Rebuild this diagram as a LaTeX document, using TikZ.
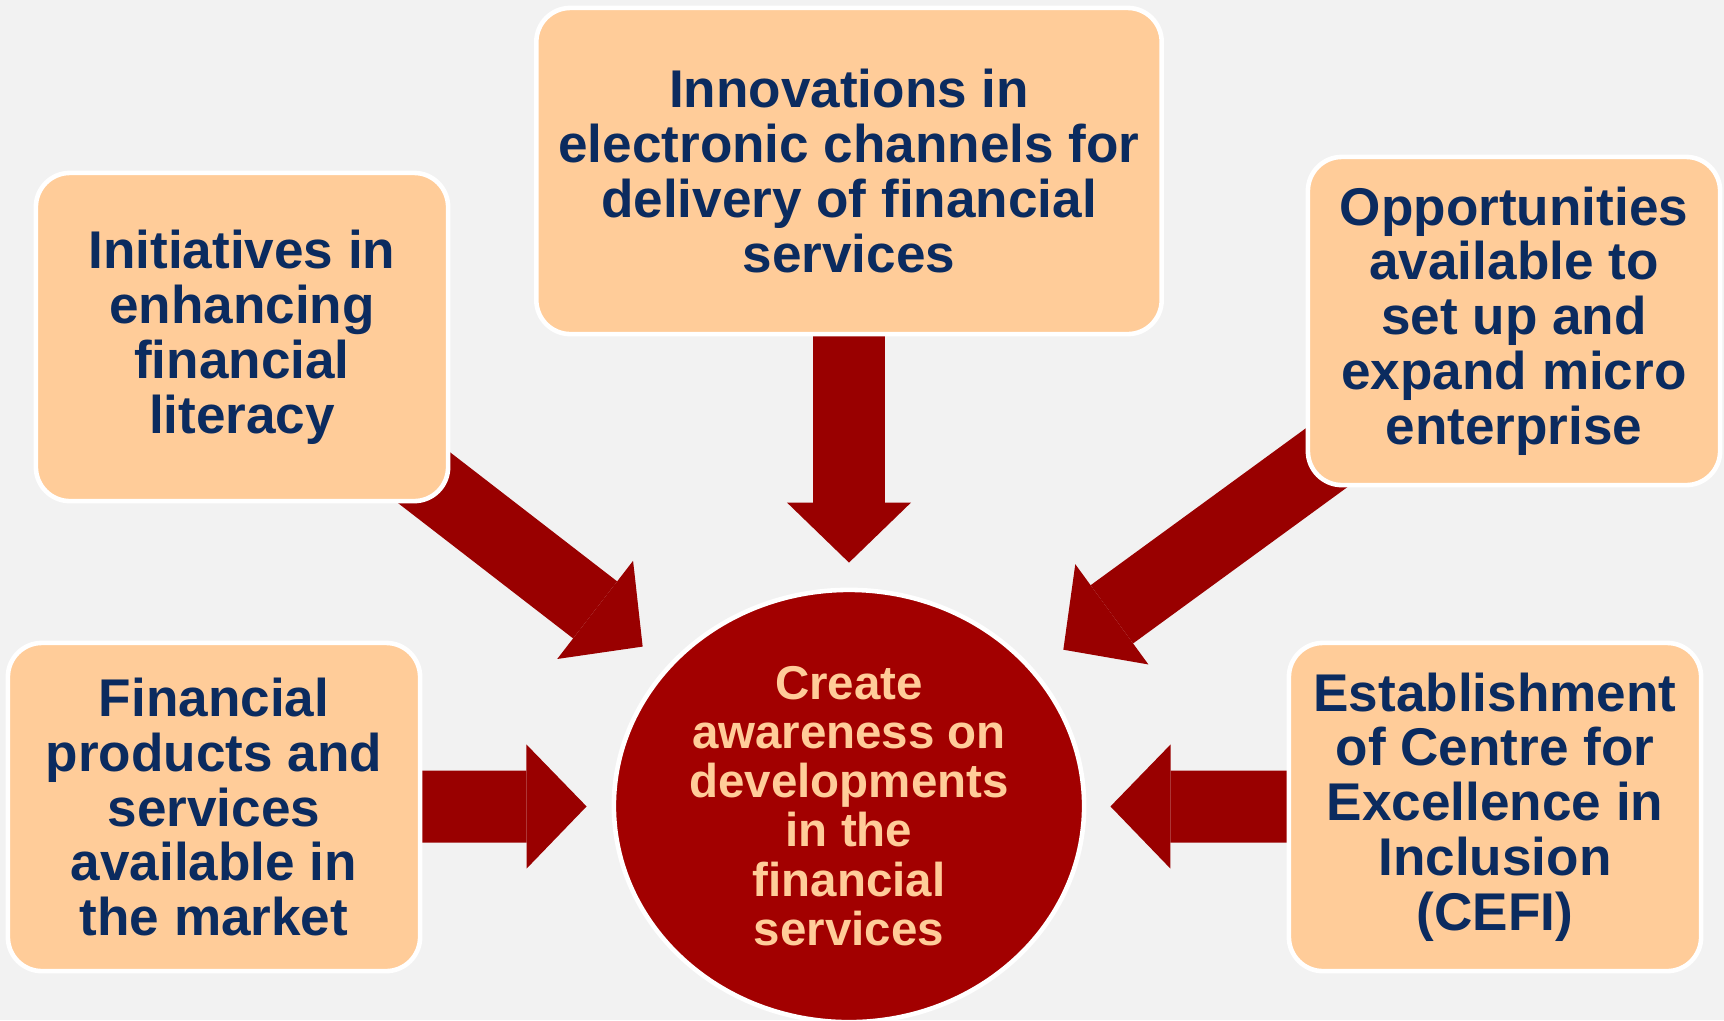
\documentclass[tikz,border=0pt]{standalone}
\usepackage{fontspec}
\setmainfont{Liberation Sans}
\usetikzlibrary{shapes.geometric,arrows.meta}
\definecolor{backgray}{HTML}{F2F2F2}
\definecolor{peach}{HTML}{FFCC99}
\definecolor{navy}{HTML}{0B2B5F}
\definecolor{darkred}{HTML}{990000}
\definecolor{hubred}{HTML}{A20000}
\pgfdeclarelayer{behind}
\pgfsetlayers{behind,main}
\tikzset{
  infobox/.style={rectangle, rounded corners=0.34cm, fill=peach, draw=white, line width=1.3pt,
    minimum width=4.12cm, minimum height=3.28cm, inner sep=0pt, align=center, text=navy,
    font=\bfseries\fontsize{15.1}{15.6}\selectfont},
  hub/.style={ellipse, fill=hubred, draw=white, line width=1.3pt, minimum width=4.7cm,
    minimum height=4.32cm, inner sep=0pt, align=center, text=peach,
    font=\bfseries\fontsize{13.5}{14}\selectfont},
  bigarrow/.style={darkred, line width=0.72cm,
    -{Triangle[length=0.6cm,width=1.24cm,line width=0pt]}},
}
\begin{document}
\begin{tikzpicture}[x=0.01cm,y=-0.01cm]
  \useasboundingbox (0,0) rectangle (1724,1020);
  \begin{pgfonlayer}{behind}
    \fill[backgray] (0,0) rectangle (1724,1020);
  \end{pgfonlayer}

  \node[hub] (hub) at (849,806) {Create\\awareness on\\developments\\in the\\financial\\services};

  \node[infobox, minimum width=6.25cm, minimum height=3.26cm] (tb) at (849,171)
    {Innovations in\\electronic channels for\\delivery of financial\\services};
  \node[infobox] (tl) at (242,337) {Initiatives in\\enhancing\\financial\\literacy};
  \node[infobox] (tr) at (1514,321) {Opportunities\\available to\\set up and\\expand micro\\enterprise};
  \node[infobox] (bl) at (214,807) {Financial\\products and\\services\\available in\\the market};
  \node[infobox] (br) at (1495,807) {Establishment\\of Centre for\\Excellence in\\Inclusion\\(CEFI)};

  % arrows sit behind the boxes
  \begin{pgfonlayer}{behind}
    \foreach \b/\gap in {tb/0.25, tl/0.31, tr/0.35, bl/0.25, br/0.24}{
      \draw[bigarrow, shorten >=\gap cm] (\b.center) -- (hub);
    }
  \end{pgfonlayer}
\end{tikzpicture}
\end{document}
